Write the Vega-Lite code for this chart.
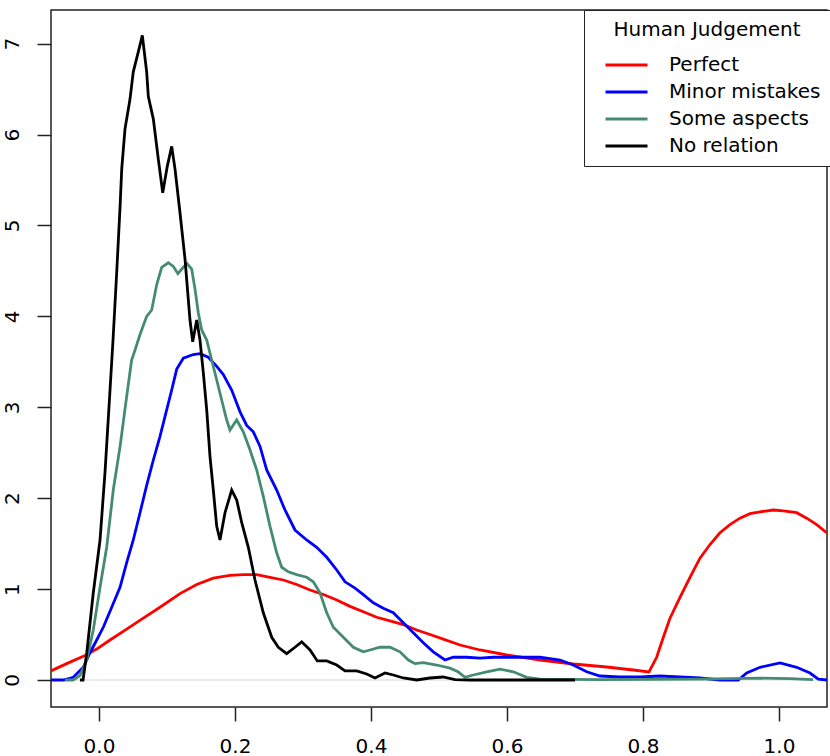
{
  "$schema": "https://vega.github.io/schema/vega-lite/v6.json",
  "width": 776,
  "height": 697,
  "autosize": {"type": "none"},
  "padding": {"left": 51, "top": 10, "right": 3, "bottom": 49},
  "background": "white",
  "config": {
    "font": "DejaVu Sans",
    "view": {"stroke": "#222", "strokeWidth": 1.5},
    "axis": {
      "grid": false,
      "domain": false,
      "tickColor": "#222",
      "tickWidth": 1.5,
      "tickSize": 14,
      "labelFont": "DejaVu Sans",
      "labelFontSize": 20,
      "labelColor": "#000",
      "title": null
    }
  },
  "layer": [
    {
      "data": {"values": [{}]},
      "mark": {"type": "rule", "color": "#e4e4e4", "strokeWidth": 1.5},
      "encoding": {"y": {"datum": 0, "type": "quantitative"}}
    },
    {
      "data": {
        "values": [
          {"j": "Perfect", "x": -0.0706, "d": 0.10},
          {"j": "Perfect", "x": -0.0475, "d": 0.18},
          {"j": "Perfect", "x": -0.0231, "d": 0.26},
          {"j": "Perfect", "x": -0.0034, "d": 0.34},
          {"j": "Perfect", "x": 0.0162, "d": 0.44},
          {"j": "Perfect", "x": 0.0407, "d": 0.56},
          {"j": "Perfect", "x": 0.0651, "d": 0.68},
          {"j": "Perfect", "x": 0.0897, "d": 0.80},
          {"j": "Perfect", "x": 0.1191, "d": 0.95},
          {"j": "Perfect", "x": 0.1437, "d": 1.05},
          {"j": "Perfect", "x": 0.1681, "d": 1.12},
          {"j": "Perfect", "x": 0.1926, "d": 1.15},
          {"j": "Perfect", "x": 0.2122, "d": 1.16},
          {"j": "Perfect", "x": 0.2319, "d": 1.16},
          {"j": "Perfect", "x": 0.2515, "d": 1.13},
          {"j": "Perfect", "x": 0.271, "d": 1.10},
          {"j": "Perfect", "x": 0.2907, "d": 1.05},
          {"j": "Perfect", "x": 0.3103, "d": 0.99},
          {"j": "Perfect", "x": 0.3299, "d": 0.94},
          {"j": "Perfect", "x": 0.3496, "d": 0.88},
          {"j": "Perfect", "x": 0.3691, "d": 0.81},
          {"j": "Perfect", "x": 0.3887, "d": 0.75},
          {"j": "Perfect", "x": 0.4084, "d": 0.69},
          {"j": "Perfect", "x": 0.4279, "d": 0.65},
          {"j": "Perfect", "x": 0.4475, "d": 0.61},
          {"j": "Perfect", "x": 0.4672, "d": 0.55},
          {"j": "Perfect", "x": 0.4868, "d": 0.50},
          {"j": "Perfect", "x": 0.5063, "d": 0.45},
          {"j": "Perfect", "x": 0.5309, "d": 0.385},
          {"j": "Perfect", "x": 0.5603, "d": 0.33},
          {"j": "Perfect", "x": 0.5996, "d": 0.275},
          {"j": "Perfect", "x": 0.6485, "d": 0.22},
          {"j": "Perfect", "x": 0.6975, "d": 0.176},
          {"j": "Perfect", "x": 0.7466, "d": 0.143},
          {"j": "Perfect", "x": 0.7857, "d": 0.11},
          {"j": "Perfect", "x": 0.8088, "d": 0.088},
          {"j": "Perfect", "x": 0.8201, "d": 0.25},
          {"j": "Perfect", "x": 0.8299, "d": 0.47},
          {"j": "Perfect", "x": 0.8397, "d": 0.68},
          {"j": "Perfect", "x": 0.8544, "d": 0.91},
          {"j": "Perfect", "x": 0.8691, "d": 1.13},
          {"j": "Perfect", "x": 0.8838, "d": 1.34},
          {"j": "Perfect", "x": 0.8985, "d": 1.49},
          {"j": "Perfect", "x": 0.9132, "d": 1.62},
          {"j": "Perfect", "x": 0.9279, "d": 1.71},
          {"j": "Perfect", "x": 0.9426, "d": 1.78},
          {"j": "Perfect", "x": 0.9574, "d": 1.83},
          {"j": "Perfect", "x": 0.9721, "d": 1.85},
          {"j": "Perfect", "x": 0.9916, "d": 1.87},
          {"j": "Perfect", "x": 1.0063, "d": 1.86},
          {"j": "Perfect", "x": 1.026, "d": 1.84},
          {"j": "Perfect", "x": 1.0407, "d": 1.78},
          {"j": "Perfect", "x": 1.0554, "d": 1.71},
          {"j": "Perfect", "x": 1.0701, "d": 1.62},

          {"j": "Minor mistakes", "x": -0.0706, "d": 0},
          {"j": "Minor mistakes", "x": -0.0525, "d": 0},
          {"j": "Minor mistakes", "x": -0.0378, "d": 0.03},
          {"j": "Minor mistakes", "x": -0.0231, "d": 0.14},
          {"j": "Minor mistakes", "x": -0.0132, "d": 0.30},
          {"j": "Minor mistakes", "x": -0.0034, "d": 0.44},
          {"j": "Minor mistakes", "x": 0.0063, "d": 0.58},
          {"j": "Minor mistakes", "x": 0.0187, "d": 0.80},
          {"j": "Minor mistakes", "x": 0.0309, "d": 1.02},
          {"j": "Minor mistakes", "x": 0.0407, "d": 1.29},
          {"j": "Minor mistakes", "x": 0.0504, "d": 1.54},
          {"j": "Minor mistakes", "x": 0.0603, "d": 1.84},
          {"j": "Minor mistakes", "x": 0.0701, "d": 2.14},
          {"j": "Minor mistakes", "x": 0.0799, "d": 2.42},
          {"j": "Minor mistakes", "x": 0.0897, "d": 2.68},
          {"j": "Minor mistakes", "x": 0.0971, "d": 2.90},
          {"j": "Minor mistakes", "x": 0.1069, "d": 3.19},
          {"j": "Minor mistakes", "x": 0.1143, "d": 3.42},
          {"j": "Minor mistakes", "x": 0.124, "d": 3.54},
          {"j": "Minor mistakes", "x": 0.1387, "d": 3.58},
          {"j": "Minor mistakes", "x": 0.1485, "d": 3.59},
          {"j": "Minor mistakes", "x": 0.1607, "d": 3.55},
          {"j": "Minor mistakes", "x": 0.1731, "d": 3.45},
          {"j": "Minor mistakes", "x": 0.1828, "d": 3.36},
          {"j": "Minor mistakes", "x": 0.1951, "d": 3.19},
          {"j": "Minor mistakes", "x": 0.2074, "d": 2.95},
          {"j": "Minor mistakes", "x": 0.2172, "d": 2.80},
          {"j": "Minor mistakes", "x": 0.2269, "d": 2.73},
          {"j": "Minor mistakes", "x": 0.2368, "d": 2.57},
          {"j": "Minor mistakes", "x": 0.2466, "d": 2.31},
          {"j": "Minor mistakes", "x": 0.2613, "d": 2.09},
          {"j": "Minor mistakes", "x": 0.2735, "d": 1.87},
          {"j": "Minor mistakes", "x": 0.2882, "d": 1.65},
          {"j": "Minor mistakes", "x": 0.3054, "d": 1.54},
          {"j": "Minor mistakes", "x": 0.3201, "d": 1.46},
          {"j": "Minor mistakes", "x": 0.3349, "d": 1.35},
          {"j": "Minor mistakes", "x": 0.3496, "d": 1.21},
          {"j": "Minor mistakes", "x": 0.3618, "d": 1.08},
          {"j": "Minor mistakes", "x": 0.3765, "d": 1.01},
          {"j": "Minor mistakes", "x": 0.3887, "d": 0.94},
          {"j": "Minor mistakes", "x": 0.4034, "d": 0.85},
          {"j": "Minor mistakes", "x": 0.4181, "d": 0.79},
          {"j": "Minor mistakes", "x": 0.4328, "d": 0.74},
          {"j": "Minor mistakes", "x": 0.4475, "d": 0.63},
          {"j": "Minor mistakes", "x": 0.4622, "d": 0.52},
          {"j": "Minor mistakes", "x": 0.4769, "d": 0.41},
          {"j": "Minor mistakes", "x": 0.4916, "d": 0.31},
          {"j": "Minor mistakes", "x": 0.5088, "d": 0.22},
          {"j": "Minor mistakes", "x": 0.521, "d": 0.25},
          {"j": "Minor mistakes", "x": 0.5407, "d": 0.25},
          {"j": "Minor mistakes", "x": 0.5603, "d": 0.24},
          {"j": "Minor mistakes", "x": 0.5799, "d": 0.25},
          {"j": "Minor mistakes", "x": 0.6093, "d": 0.25},
          {"j": "Minor mistakes", "x": 0.6485, "d": 0.25},
          {"j": "Minor mistakes", "x": 0.678, "d": 0.22},
          {"j": "Minor mistakes", "x": 0.6975, "d": 0.165},
          {"j": "Minor mistakes", "x": 0.7172, "d": 0.09},
          {"j": "Minor mistakes", "x": 0.7368, "d": 0.044},
          {"j": "Minor mistakes", "x": 0.7662, "d": 0.033},
          {"j": "Minor mistakes", "x": 0.7956, "d": 0.033},
          {"j": "Minor mistakes", "x": 0.825, "d": 0.044},
          {"j": "Minor mistakes", "x": 0.8544, "d": 0.033},
          {"j": "Minor mistakes", "x": 0.8838, "d": 0.022},
          {"j": "Minor mistakes", "x": 0.9132, "d": 0},
          {"j": "Minor mistakes", "x": 0.9401, "d": 0},
          {"j": "Minor mistakes", "x": 0.9525, "d": 0.077},
          {"j": "Minor mistakes", "x": 0.9721, "d": 0.14},
          {"j": "Minor mistakes", "x": 1.0015, "d": 0.187},
          {"j": "Minor mistakes", "x": 1.026, "d": 0.14},
          {"j": "Minor mistakes", "x": 1.0456, "d": 0.077},
          {"j": "Minor mistakes", "x": 1.0578, "d": 0.01},
          {"j": "Minor mistakes", "x": 1.0706, "d": 0},

          {"j": "Some aspects", "x": -0.05, "d": 0},
          {"j": "Some aspects", "x": -0.038, "d": 0},
          {"j": "Some aspects", "x": -0.028, "d": 0.05},
          {"j": "Some aspects", "x": -0.018, "d": 0.22},
          {"j": "Some aspects", "x": -0.0084, "d": 0.55},
          {"j": "Some aspects", "x": 0.0015, "d": 1.02},
          {"j": "Some aspects", "x": 0.0113, "d": 1.46},
          {"j": "Some aspects", "x": 0.021, "d": 2.09},
          {"j": "Some aspects", "x": 0.031, "d": 2.57},
          {"j": "Some aspects", "x": 0.0407, "d": 3.12},
          {"j": "Some aspects", "x": 0.048, "d": 3.52},
          {"j": "Some aspects", "x": 0.053, "d": 3.63},
          {"j": "Some aspects", "x": 0.0603, "d": 3.80},
          {"j": "Some aspects", "x": 0.0701, "d": 4.00},
          {"j": "Some aspects", "x": 0.0775, "d": 4.07},
          {"j": "Some aspects", "x": 0.0849, "d": 4.35},
          {"j": "Some aspects", "x": 0.0922, "d": 4.54},
          {"j": "Some aspects", "x": 0.1019, "d": 4.59},
          {"j": "Some aspects", "x": 0.1093, "d": 4.55},
          {"j": "Some aspects", "x": 0.116, "d": 4.47},
          {"j": "Some aspects", "x": 0.124, "d": 4.54},
          {"j": "Some aspects", "x": 0.1294, "d": 4.58},
          {"j": "Some aspects", "x": 0.1363, "d": 4.52},
          {"j": "Some aspects", "x": 0.1412, "d": 4.30},
          {"j": "Some aspects", "x": 0.146, "d": 4.04},
          {"j": "Some aspects", "x": 0.151, "d": 3.85},
          {"j": "Some aspects", "x": 0.1584, "d": 3.74},
          {"j": "Some aspects", "x": 0.1657, "d": 3.52},
          {"j": "Some aspects", "x": 0.1731, "d": 3.30},
          {"j": "Some aspects", "x": 0.1804, "d": 3.08},
          {"j": "Some aspects", "x": 0.1878, "d": 2.86},
          {"j": "Some aspects", "x": 0.1926, "d": 2.75},
          {"j": "Some aspects", "x": 0.2025, "d": 2.86},
          {"j": "Some aspects", "x": 0.2122, "d": 2.73},
          {"j": "Some aspects", "x": 0.2221, "d": 2.53},
          {"j": "Some aspects", "x": 0.2319, "d": 2.31},
          {"j": "Some aspects", "x": 0.2416, "d": 2.02},
          {"j": "Some aspects", "x": 0.2515, "d": 1.69},
          {"j": "Some aspects", "x": 0.2613, "d": 1.40},
          {"j": "Some aspects", "x": 0.2687, "d": 1.24},
          {"j": "Some aspects", "x": 0.2784, "d": 1.19},
          {"j": "Some aspects", "x": 0.2907, "d": 1.16},
          {"j": "Some aspects", "x": 0.3054, "d": 1.13},
          {"j": "Some aspects", "x": 0.3151, "d": 1.08},
          {"j": "Some aspects", "x": 0.325, "d": 0.96},
          {"j": "Some aspects", "x": 0.3349, "d": 0.74},
          {"j": "Some aspects", "x": 0.3446, "d": 0.58},
          {"j": "Some aspects", "x": 0.3593, "d": 0.47},
          {"j": "Some aspects", "x": 0.374, "d": 0.36},
          {"j": "Some aspects", "x": 0.3887, "d": 0.31},
          {"j": "Some aspects", "x": 0.3985, "d": 0.33},
          {"j": "Some aspects", "x": 0.4132, "d": 0.36},
          {"j": "Some aspects", "x": 0.4279, "d": 0.36},
          {"j": "Some aspects", "x": 0.4426, "d": 0.31},
          {"j": "Some aspects", "x": 0.4549, "d": 0.22},
          {"j": "Some aspects", "x": 0.4647, "d": 0.18},
          {"j": "Some aspects", "x": 0.4769, "d": 0.19},
          {"j": "Some aspects", "x": 0.4966, "d": 0.165},
          {"j": "Some aspects", "x": 0.5162, "d": 0.13},
          {"j": "Some aspects", "x": 0.528, "d": 0.09},
          {"j": "Some aspects", "x": 0.5382, "d": 0.03},
          {"j": "Some aspects", "x": 0.5504, "d": 0.055},
          {"j": "Some aspects", "x": 0.5701, "d": 0.09},
          {"j": "Some aspects", "x": 0.5897, "d": 0.12},
          {"j": "Some aspects", "x": 0.6093, "d": 0.09},
          {"j": "Some aspects", "x": 0.629, "d": 0.03},
          {"j": "Some aspects", "x": 0.6485, "d": 0.01},
          {"j": "Some aspects", "x": 0.737, "d": 0.005},
          {"j": "Some aspects", "x": 0.884, "d": 0.01},
          {"j": "Some aspects", "x": 0.972, "d": 0.02},
          {"j": "Some aspects", "x": 1.016, "d": 0.015},
          {"j": "Some aspects", "x": 1.05, "d": 0.005},

          {"j": "No relation", "x": -0.028, "d": 0},
          {"j": "No relation", "x": -0.0235, "d": 0},
          {"j": "No relation", "x": -0.018, "d": 0.30},
          {"j": "No relation", "x": -0.0084, "d": 0.96},
          {"j": "No relation", "x": 0.0015, "d": 1.54},
          {"j": "No relation", "x": 0.0088, "d": 2.28},
          {"j": "No relation", "x": 0.0162, "d": 3.19},
          {"j": "No relation", "x": 0.0206, "d": 3.74},
          {"j": "No relation", "x": 0.026, "d": 4.48},
          {"j": "No relation", "x": 0.031, "d": 5.21},
          {"j": "No relation", "x": 0.0334, "d": 5.62},
          {"j": "No relation", "x": 0.0382, "d": 6.06},
          {"j": "No relation", "x": 0.0456, "d": 6.39},
          {"j": "No relation", "x": 0.0504, "d": 6.69},
          {"j": "No relation", "x": 0.0578, "d": 6.91},
          {"j": "No relation", "x": 0.0637, "d": 7.09},
          {"j": "No relation", "x": 0.0701, "d": 6.69},
          {"j": "No relation", "x": 0.0725, "d": 6.42},
          {"j": "No relation", "x": 0.0799, "d": 6.17},
          {"j": "No relation", "x": 0.0872, "d": 5.73},
          {"j": "No relation", "x": 0.0937, "d": 5.36},
          {"j": "No relation", "x": 0.1004, "d": 5.65},
          {"j": "No relation", "x": 0.1069, "d": 5.87},
          {"j": "No relation", "x": 0.1118, "d": 5.62},
          {"j": "No relation", "x": 0.1191, "d": 5.14},
          {"j": "No relation", "x": 0.1265, "d": 4.63},
          {"j": "No relation", "x": 0.1338, "d": 3.96},
          {"j": "No relation", "x": 0.1378, "d": 3.72},
          {"j": "No relation", "x": 0.1437, "d": 3.96},
          {"j": "No relation", "x": 0.1485, "d": 3.74},
          {"j": "No relation", "x": 0.1534, "d": 3.38},
          {"j": "No relation", "x": 0.1584, "d": 2.97},
          {"j": "No relation", "x": 0.1632, "d": 2.46},
          {"j": "No relation", "x": 0.1681, "d": 2.09},
          {"j": "No relation", "x": 0.1731, "d": 1.69},
          {"j": "No relation", "x": 0.1779, "d": 1.54},
          {"j": "No relation", "x": 0.1853, "d": 1.84},
          {"j": "No relation", "x": 0.1951, "d": 2.09},
          {"j": "No relation", "x": 0.2025, "d": 1.98},
          {"j": "No relation", "x": 0.2099, "d": 1.73},
          {"j": "No relation", "x": 0.2196, "d": 1.46},
          {"j": "No relation", "x": 0.2294, "d": 1.10},
          {"j": "No relation", "x": 0.2416, "d": 0.74},
          {"j": "No relation", "x": 0.254, "d": 0.47},
          {"j": "No relation", "x": 0.2637, "d": 0.36},
          {"j": "No relation", "x": 0.276, "d": 0.29},
          {"j": "No relation", "x": 0.2882, "d": 0.36},
          {"j": "No relation", "x": 0.2981, "d": 0.42},
          {"j": "No relation", "x": 0.3103, "d": 0.33},
          {"j": "No relation", "x": 0.321, "d": 0.21},
          {"j": "No relation", "x": 0.3349, "d": 0.21},
          {"j": "No relation", "x": 0.3496, "d": 0.165},
          {"j": "No relation", "x": 0.3618, "d": 0.10},
          {"j": "No relation", "x": 0.379, "d": 0.10},
          {"j": "No relation", "x": 0.3937, "d": 0.066},
          {"j": "No relation", "x": 0.4059, "d": 0.022},
          {"j": "No relation", "x": 0.4206, "d": 0.077},
          {"j": "No relation", "x": 0.4328, "d": 0.055},
          {"j": "No relation", "x": 0.4475, "d": 0.022},
          {"j": "No relation", "x": 0.4672, "d": 0},
          {"j": "No relation", "x": 0.4868, "d": 0.022},
          {"j": "No relation", "x": 0.5059, "d": 0.033},
          {"j": "No relation", "x": 0.5235, "d": 0.005},
          {"j": "No relation", "x": 0.5456, "d": 0},
          {"j": "No relation", "x": 0.70, "d": 0}
        ]
      },
      "mark": {"type": "line", "strokeWidth": 2.8, "clip": true},
      "encoding": {
        "x": {
          "field": "x",
          "type": "quantitative",
          "scale": {"domain": [-0.0706, 1.0706], "nice": false, "zero": false},
          "axis": {"values": [0, 0.2, 0.4, 0.6, 0.8, 1.0], "format": ".1f", "labelPadding": 15}
        },
        "y": {
          "field": "d",
          "type": "quantitative",
          "scale": {"domain": [-0.297, 7.37], "nice": false, "zero": false},
          "axis": {"values": [0, 1, 2, 3, 4, 5, 6, 7], "format": "d", "labelAngle": -90, "labelPadding": 15}
        },
        "color": {
          "field": "j",
          "type": "nominal",
          "scale": {
            "domain": ["Perfect", "Minor mistakes", "Some aspects", "No relation"],
            "range": ["#FF0000", "#0000FF", "#458B74", "#000000"]
          },
          "legend": {
            "title": "Human Judgement",
            "orient": "none",
            "legendX": 533,
            "legendY": 0,
            "strokeColor": "#222",
            "fillColor": "white",
            "padding": 10,
            "titleFont": "DejaVu Sans",
            "titleFontSize": 20,
            "titleFontWeight": "normal",
            "titleColor": "#000",
            "titleLimit": 400,
            "titleAnchor": "middle",
            "titleAlign": "center",
            "titlePadding": 15,
            "labelFont": "DejaVu Sans",
            "labelFontSize": 20,
            "labelColor": "#000",
            "labelLimit": 400,
            "labelOffset": 20,
            "symbolType": "stroke",
            "symbolSize": 1764,
            "symbolStrokeWidth": 3,
            "symbolOffset": 10,
            "clipHeight": 20,
            "rowPadding": 7
          }
        }
      }
    }
  ]
}
